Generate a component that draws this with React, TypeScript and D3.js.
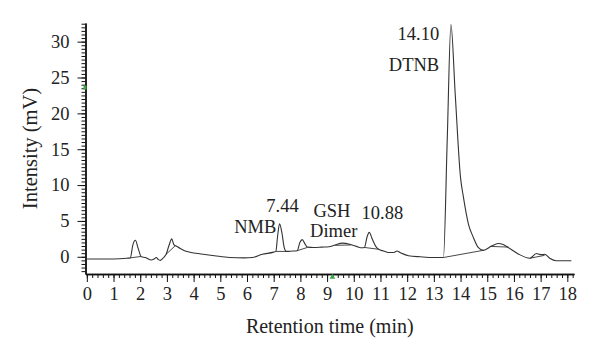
import React, { useEffect, useRef } from "react";
import * as d3 from "d3";

// Chromatogram trace (retention time in min, intensity in mV)
const times = [
  0.0, 0.5, 1.0, 1.5, 1.63, 1.72, 1.82, 1.92, 2.04, 2.2, 2.41, 2.52, 2.6, 2.68, 2.75, 2.85,
  2.97, 3.08, 3.18, 3.26, 3.35, 3.5, 3.66, 3.9, 4.28, 4.78, 5.34, 5.9, 6.2, 6.57, 7.0,
  7.08, 7.15, 7.22, 7.3, 7.4, 7.47, 7.7, 7.88, 7.98, 8.07, 8.17, 8.26, 8.5, 8.8, 9.07,
  9.3, 9.57, 9.85, 10.1, 10.31, 10.4, 10.5, 10.58, 10.7, 10.85, 10.93, 11.12, 11.3, 11.5,
  11.62, 11.75, 12.05, 12.5, 13.0, 13.36, 13.5, 13.64, 13.8, 14.0, 14.1, 14.3, 14.48,
  14.66, 14.85, 15.16, 15.41, 15.6, 15.78, 16.16, 16.6, 16.84, 16.95, 17.05, 17.15, 17.34,
  17.58, 18.15,
];
const intensity = [
  -0.3, -0.3, -0.3, -0.2, -0.15, 1.6, 2.3, 1.2, 0.0, -0.1, -0.45, -0.3, -0.1, -0.4, -0.5, -0.2,
  0.35, 1.6, 2.5, 1.7, 1.5, 1.15, 0.85, 0.6, 0.4, 0.15, -0.1, -0.15, -0.1, 0.35, 0.65,
  0.75, 3.0, 4.6, 3.5, 1.2, 0.75, 0.8, 0.85, 2.0, 2.4, 1.8, 1.35, 1.3, 1.35, 1.4,
  1.65, 1.9, 1.75, 1.45, 1.25, 1.3, 2.8, 3.4, 2.4, 1.3, 1.05, 0.8, 0.6, 0.6,
  0.8, 0.55, 0.15, 0.0, -0.1, -0.1, 16.2, 32.4, 22.7, 11, 8.5, 4.5, 2.7,
  1.3, 0.9, 1.5, 1.85, 1.7, 1.3, 0.4, -0.2, 0.45, 0.35, 0.3, 0.35, -0.2,
  -0.55, -0.55,
];

// Integration baselines drawn under peaks: [t1, v1, t2, v2]
const baselineSegments: [number, number, number, number][] = [
  [1.63, -0.15, 2.04, 0.05],
  [2.97, 0.35, 3.3, 1.5],
  [7.08, 0.75, 7.47, 0.75],
  [7.88, 0.85, 8.26, 1.3],
  [9.3, 1.6, 9.9, 1.65],
  [10.4, 1.3, 10.93, 1.05],
  [13.36, -0.1, 14.85, 0.9],
  [15.1, 1.45, 15.8, 1.35],
  [16.6, -0.2, 17.15, 0.2],
];

// Peak annotations
const labelTexts = ["14.10", "DTNB", "7.44", "NMB", "GSH", "Dimer", "10.88"];
const labelTimes = [13.2, 13.2, 7.33, 7.1, 9.18, 9.25, 11.07];
const labelValues = [30.2, 25.9, 6.2, 3.3, 5.5, 2.7, 5.3];
const labelAnchors = ["end", "end", "middle", "end", "middle", "middle", "middle"];

const xTicks = d3.range(0, 19, 1);
const yTicks = [0, 5, 10, 15, 20, 25, 30];

const W = 600;
const H = 359;
const FONT = "Liberation Serif, Times New Roman, DejaVu Serif, serif";

export default function App() {
  const ref = useRef<SVGSVGElement | null>(null);

  useEffect(() => {
    const svg = d3.select(ref.current);
    svg.selectAll("*").remove();

    const x = d3.scaleLinear().domain([-0.05, 18.25]).range([85.5, 574]);
    const y = d3.scaleLinear().domain([-2.4, 32.6]).range([274, 23]);

    const g = svg.append("g");

    // Y axis
    const yAxis = d3
      .axisLeft(y)
      .tickValues(d3.range(-2, 32.6, 0.5))
      .tickSize(4)
      .tickSizeOuter(0)
      .tickFormat(() => "");
    g.append("g").attr("transform", `translate(${x.range()[0]},0)`).call(yAxis as any);
    const yMajor = d3
      .axisLeft(y)
      .tickValues(yTicks)
      .tickSize(8)
      .tickSizeOuter(0)
      .tickPadding(8)
      .tickFormat(d3.format("d") as any);
    const ya = g.append("g").attr("transform", `translate(${x.range()[0]},0)`).call(yMajor as any);
    ya.selectAll("text").style("font-family", FONT).style("font-size", "18.5px").attr("fill", "#222");

    // X axis
    const xAxis = d3
      .axisBottom(x)
      .tickValues(d3.range(0, 18.21, 0.2))
      .tickSize(4)
      .tickSizeOuter(0)
      .tickFormat(() => "");
    g.append("g").attr("transform", `translate(0,${y.range()[0]})`).call(xAxis as any);
    const xMajor = d3
      .axisBottom(x)
      .tickValues(xTicks)
      .tickSize(8)
      .tickSizeOuter(0)
      .tickPadding(5)
      .tickFormat(d3.format("d") as any);
    const xa = g.append("g").attr("transform", `translate(0,${y.range()[0]})`).call(xMajor as any);
    xa.selectAll("text").style("font-family", FONT).style("font-size", "18.5px").attr("fill", "#222");

    svg.selectAll(".domain").attr("stroke", "#111").attr("stroke-width", 1.4);
    svg.selectAll(".tick line").attr("stroke", "#111").attr("stroke-width", 1);

    // Small green markers
    g.append("path")
      .attr("d", d3.symbol(d3.symbolTriangle, 14)() as string)
      .attr("transform", `translate(${x(9.2)},${y.range()[0] + 3})`)
      .attr("fill", "#3aa64a");
    g.append("rect")
      .attr("x", x.range()[0] - 2)
      .attr("y", y(23.6) - 2)
      .attr("width", 3)
      .attr("height", 4)
      .attr("fill", "#3aa64a");

    // Integration baselines
    g.append("g")
      .selectAll("line")
      .data(baselineSegments)
      .join("line")
      .attr("x1", (d) => x(d[0]))
      .attr("y1", (d) => y(d[1]))
      .attr("x2", (d) => x(d[2]))
      .attr("y2", (d) => y(d[3]))
      .attr("stroke", "#333")
      .attr("stroke-width", 0.9);

    // Trace
    const pts = times.map((t, i) => [t, intensity[i]] as [number, number]);
    const line = d3
      .line<[number, number]>()
      .x((d) => x(d[0]))
      .y((d) => y(d[1]))
      .curve(d3.curveMonotoneX);
    g.append("path")
      .datum(pts)
      .attr("d", line)
      .attr("fill", "none")
      .attr("stroke", "#333")
      .attr("stroke-width", 1.1);

    // Annotations
    g.append("g")
      .selectAll("text")
      .data(labelTexts)
      .join("text")
      .attr("x", (_d, i) => x(labelTimes[i]))
      .attr("y", (_d, i) => y(labelValues[i]))
      .attr("text-anchor", (_d, i) => labelAnchors[i])
      .style("font-family", FONT)
      .style("font-size", "18.5px")
      .attr("fill", "#222")
      .text((d) => d);

    // Axis titles
    g.append("text")
      .attr("x", (x.range()[0] + x.range()[1]) / 2)
      .attr("y", 333)
      .attr("text-anchor", "middle")
      .style("font-family", FONT)
      .style("font-size", "20px")
      .attr("fill", "#222")
      .text("Retention time (min)");
    g.append("text")
      .attr("transform", `translate(37,${(y.range()[0] + y.range()[1]) / 2}) rotate(-90)`)
      .attr("text-anchor", "middle")
      .style("font-family", FONT)
      .style("font-size", "20.5px")
      .attr("fill", "#222")
      .text("Intensity (mV)");
  }, []);

  return (
    <svg
      ref={ref}
      width={W}
      height={H}
      style={{ position: "absolute", left: 0, top: 0, background: "#fff" }}
    />
  );
}
